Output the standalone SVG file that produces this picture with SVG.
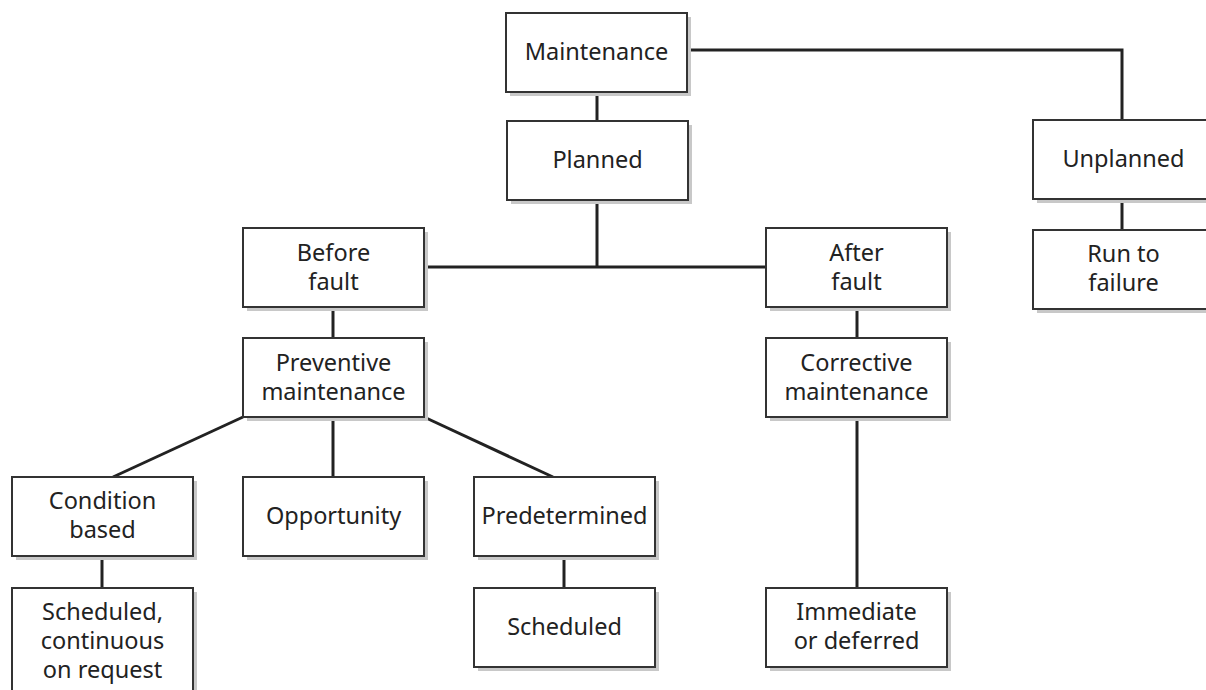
<svg xmlns="http://www.w3.org/2000/svg" width="1206" height="690" viewBox="0 0 1206 690">
<defs>
<style>
.sh{fill:#c8c8c8}
.bx{fill:#fff;stroke:#333;stroke-width:2}
.t{font-family:"Noto Sans","Open Sans",sans-serif;font-size:23.5px;fill:#222;text-anchor:middle}
.c{stroke:#222;stroke-width:3;fill:none}
</style>
</defs>
<rect width="1206" height="690" fill="#fff"/>
<g id="connectors">
<path class="c" d="M687 50 H1122 V120"/>
<path class="c" d="M597 92 V121"/>
<path class="c" d="M597 200 V267 M424 267 H766"/>
<path class="c" d="M1122 199 V230"/>
<path class="c" d="M333 307 V338"/>
<path class="c" d="M857 307 V338"/>
<path class="c" d="M857 417 V588"/>
<path class="c" d="M243 417 L113 477"/>
<path class="c" d="M333 417 V477"/>
<path class="c" d="M424 417 L553 477"/>
<path class="c" d="M102 556 V588"/>
<path class="c" d="M564 556 V588"/>
</g>
<g id="maintenance"><rect class="sh" x="510" y="17" width="181" height="79"/><rect class="bx" x="506" y="13" width="181" height="79"/><text class="t" x="596.5" y="60">Maintenance</text></g>
<g id="planned"><rect class="sh" x="511" y="125" width="181" height="79"/><rect class="bx" x="507" y="121" width="181" height="79"/><text class="t" x="597.5" y="168">Planned</text></g>
<g id="unplanned"><rect class="sh" x="1037" y="124" width="181" height="79"/><rect class="bx" x="1033" y="120" width="181" height="79"/><text class="t" x="1123.5" y="167">Unplanned</text></g>
<g id="run-to-failure"><rect class="sh" x="1037" y="234" width="181" height="79"/><rect class="bx" x="1033" y="230" width="181" height="79"/><text class="t" x="1123.5" y="262">Run to</text><text class="t" x="1123.5" y="291">failure</text></g>
<g id="before-fault"><rect class="sh" x="247" y="232" width="181" height="79"/><rect class="bx" x="243" y="228" width="181" height="79"/><text class="t" x="333.5" y="261">Before</text><text class="t" x="333.5" y="290">fault</text></g>
<g id="after-fault"><rect class="sh" x="770" y="232" width="181" height="79"/><rect class="bx" x="766" y="228" width="181" height="79"/><text class="t" x="856.5" y="261">After</text><text class="t" x="856.5" y="290">fault</text></g>
<g id="preventive"><rect class="sh" x="247" y="342" width="181" height="79"/><rect class="bx" x="243" y="338" width="181" height="79"/><text class="t" x="333.5" y="371">Preventive</text><text class="t" x="333.5" y="400">maintenance</text></g>
<g id="corrective"><rect class="sh" x="770" y="342" width="181" height="79"/><rect class="bx" x="766" y="338" width="181" height="79"/><text class="t" x="856.5" y="371">Corrective</text><text class="t" x="856.5" y="400">maintenance</text></g>
<g id="condition-based"><rect class="sh" x="16" y="481" width="181" height="79"/><rect class="bx" x="12" y="477" width="181" height="79"/><text class="t" x="102.5" y="509">Condition</text><text class="t" x="102.5" y="538">based</text></g>
<g id="opportunity"><rect class="sh" x="247" y="481" width="181" height="79"/><rect class="bx" x="243" y="477" width="181" height="79"/><text class="t" x="333.5" y="524">Opportunity</text></g>
<g id="predetermined"><rect class="sh" x="478" y="481" width="181" height="79"/><rect class="bx" x="474" y="477" width="181" height="79"/><text class="t" x="564.5" y="524">Predetermined</text></g>
<g id="scheduled-continuous"><rect class="sh" x="16" y="592" width="181" height="110"/><rect class="bx" x="12" y="588" width="181" height="110"/><text class="t" x="102.5" y="620">Scheduled,</text><text class="t" x="102.5" y="649">continuous</text><text class="t" x="102.5" y="678">on request</text></g>
<g id="scheduled"><rect class="sh" x="478" y="592" width="181" height="79"/><rect class="bx" x="474" y="588" width="181" height="79"/><text class="t" x="564.5" y="635">Scheduled</text></g>
<g id="immediate"><rect class="sh" x="770" y="592" width="181" height="79"/><rect class="bx" x="766" y="588" width="181" height="79"/><text class="t" x="856.5" y="620">Immediate</text><text class="t" x="856.5" y="649">or deferred</text></g>
</svg>
